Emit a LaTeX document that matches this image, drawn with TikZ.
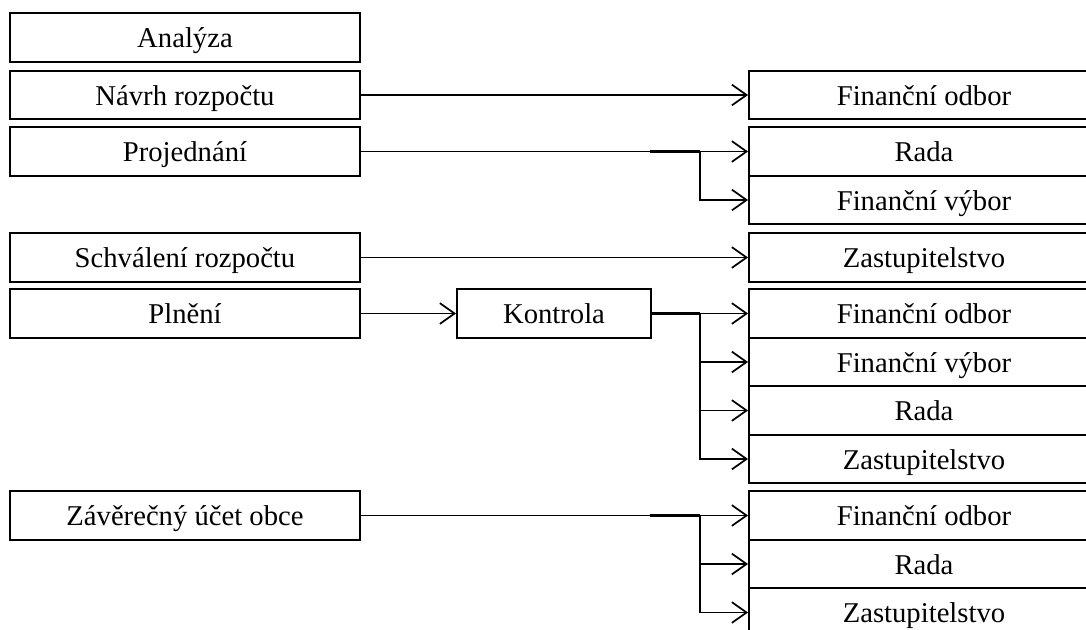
\documentclass[tikz,border=0pt]{standalone}
\usepackage{fontspec}
\setmainfont{Liberation Serif}
\usetikzlibrary{arrows.meta}
\begin{document}
\begin{tikzpicture}[x=0.75pt,y=-0.75pt,
  box/.style={draw, line width=1.4pt, inner sep=0pt, minimum width=262.5pt, minimum height=36.5pt,
    text height=17.5pt, text depth=2pt, font=\fontsize{21.5}{24}\selectfont},
  smallbox/.style={box, minimum width=145.5pt},
  arr/.style={line width=1.3pt, -{Straight Barb[length=11pt,width=15.5pt,line width=1.3pt]}},
  thick seg/.style={line width=2.2pt}
]
\useasboundingbox (0,0) rectangle (1086,629);
\begin{scope}
\clip (0,0) rectangle (1086,629);
% left column
\node[box] (ana) at (185,37.5) {Analýza};
\node[box] (nav) at (185,95) {Návrh rozpočtu};
\node[box] (proj) at (185,151.5) {Projednání};
\node[box] (schv) at (185,257.5) {Schválení rozpočtu};
\node[box] (plne) at (185,313.5) {Plnění};
\node[box] (zav) at (185,515.5) {Závěrečný účet obce};
\node[smallbox] (kon) at (554,313.5) {Kontrola};
% right column
\node[box] (fo1) at (924,95) {Finanční odbor};
\node[box] (ra1) at (924,151.5) {Rada};
\node[box] (fv1) at (924,200) {Finanční výbor};
\node[box] (za1) at (924,257.5) {Zastupitelstvo};
\node[box] (k1) at (924,313.5) {Finanční odbor};
\node[box] (k2) at (924,362) {Finanční výbor};
\node[box] (k3) at (924,410.5) {Rada};
\node[box] (k4) at (924,459) {Zastupitelstvo};
\node[box] (z1) at (924,515.5) {Finanční odbor};
\node[box] (z2) at (924,564) {Rada};
\node[box] (z3) at (924,612.5) {Zastupitelstvo};
\end{scope}
% junction points
\coordinate (pj) at (700,151.5);
\coordinate (pjs) at (650,151.5);
\coordinate (kj) at (700,313.5);
\coordinate (zj) at (700,515.5);
\coordinate (zjs) at (650,515.5);
% connectors
\draw[arr] (nav.east) -- (fo1.west);
\draw[arr] (proj.east) -- (ra1.west);
\draw[thick seg] (pjs) -- (pj);
\draw[arr] (pj) |- (fv1.west);
\draw[arr] (schv.east) -- (za1.west);
\draw[arr] (plne.east) -- (kon.west);
\draw[arr] (kon.east) -- (k1.west);
\draw[thick seg] (kon.east) -- (kj);
\draw[arr] (kj) |- (k2.west);
\draw[arr] (kj) |- (k3.west);
\draw[arr] (kj) |- (k4.west);
\draw[arr] (zav.east) -- (z1.west);
\draw[thick seg] (zjs) -- (zj);
\draw[arr] (zj) |- (z2.west);
\draw[arr] (zj) |- (z3.west);
\end{tikzpicture}
\end{document}
